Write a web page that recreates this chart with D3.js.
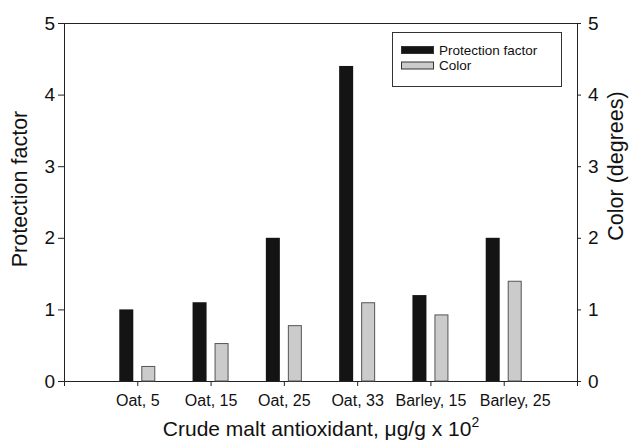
<!DOCTYPE html>
<meta charset="utf-8">
<style>
  body { margin: 0; background: #fff; }
  text { font-family: "Liberation Sans", Arial, sans-serif; fill: #111; }
</style>
<svg width="629" height="441"></svg>
<script src="https://cdn.jsdelivr.net/npm/d3@7"></script>
<script>

var categories = ["Oat, 5", "Oat, 15", "Oat, 25", "Oat, 33", "Barley, 15", "Barley, 25"];
var protection = [1.0, 1.1, 2.0, 4.4, 1.2, 2.0];
var color = [0.21, 0.53, 0.78, 1.1, 0.93, 1.4];
var yTicks = [0, 1, 2, 3, 4, 5];

var svg = d3.select("svg"),
    m = {left: 64, right: 577, top: 23, bottom: 381};

// categories sit at positions 1..6 of a 0..7 axis
var x = d3.scaleLinear().domain([0, categories.length + 1]).range([m.left, m.right]);
var y = d3.scaleLinear().domain([0, 5]).range([m.bottom, m.top]);
var y2 = d3.scaleLinear().domain([0, 5]).range([m.bottom, m.top]);

// top frame line
svg.append("line")
    .attr("x1", m.left).attr("x2", m.right)
    .attr("y1", m.top + 0.5).attr("y2", m.top + 0.5)
    .attr("stroke", "#222");

var yAxis = svg.append("g")
    .attr("transform", "translate(" + m.left + ",0)")
    .call(d3.axisLeft(y).tickValues(yTicks).tickFormat(d3.format("d")).tickSize(6).tickPadding(3));
yAxis.selectAll("text").style("font-size", "19px");

var y2Axis = svg.append("g")
    .attr("transform", "translate(" + m.right + ",0)")
    .call(d3.axisRight(y2).tickValues(yTicks).tickFormat(d3.format("d")).tickSize(4).tickPadding(7));
y2Axis.selectAll("text").style("font-size", "19px");

var xAxis = svg.append("g")
    .attr("transform", "translate(0," + m.bottom + ")")
    .call(d3.axisBottom(x)
      .tickValues(d3.range(1, categories.length + 1))
      .tickFormat(function(d) { return categories[d - 1]; })
      .tickSize(5).tickPadding(9));
xAxis.selectAll("text").style("font-size", "16px");
// last label is nudged right in the original so it clears its neighbour
xAxis.selectAll(".tick").filter(function(d) { return d === categories.length; })
    .select("text").attr("dx", 11);

svg.selectAll(".domain, .tick line").attr("stroke", "#222");

var bw = 14, gap = 4;

svg.append("g").selectAll("rect")
    .data(protection)
  .enter().append("rect")
    .attr("x", function(d, i) { return x(i + 1) - gap - bw; })
    .attr("y", function(d) { return y(d); })
    .attr("width", bw)
    .attr("height", function(d) { return m.bottom - y(d); })
    .attr("fill", "#141414");

svg.append("g").selectAll("rect")
    .data(color)
  .enter().append("rect")
    .attr("x", function(d, i) { return x(i + 1) + gap + 0.5; })
    .attr("y", function(d) { return y2(d) + 0.5; })
    .attr("width", bw - 1)
    .attr("height", function(d) { return m.bottom - y2(d) - 0.5; })
    .attr("fill", "#cbcbcb")
    .attr("stroke", "#555")
    .attr("stroke-width", 1);

// axis titles
svg.append("text")
    .attr("transform", "translate(21,189) rotate(-90)")
    .attr("text-anchor", "middle")
    .attr("dominant-baseline", "middle")
    .style("font-size", "21.5px")
    .text("Protection factor");

svg.append("text")
    .attr("transform", "translate(617.5,166) rotate(-90)")
    .attr("text-anchor", "middle")
    .attr("dominant-baseline", "middle")
    .style("font-size", "21.5px")
    .text("Color (degrees)");

var xt = svg.append("text")
    .attr("x", 321)
    .attr("y", 436)
    .attr("text-anchor", "middle")
    .style("font-size", "21px");
xt.append("tspan").text("Crude malt antioxidant, \u03bcg/g x 10");
xt.append("tspan").attr("dy", -9).style("font-size", "14px").text("2");

// legend
var legend = svg.append("g");
legend.append("rect")
    .attr("x", 392.5).attr("y", 32.5)
    .attr("width", 169).attr("height", 54)
    .attr("fill", "#fff").attr("stroke", "#333");

var items = [{name: "Protection factor", fill: "#141414"}, {name: "Color", fill: "#cbcbcb"}];
items.forEach(function(it, i) {
  var yy = 46.5 + i * 15.5;
  legend.append("rect")
      .attr("x", 401.5).attr("y", yy)
      .attr("width", 32).attr("height", 7)
      .attr("fill", it.fill).attr("stroke", "#333");
  legend.append("text")
      .attr("x", 439).attr("y", yy + 8)
      .style("font-size", "13.5px")
      .text(it.name);
});

</script>
